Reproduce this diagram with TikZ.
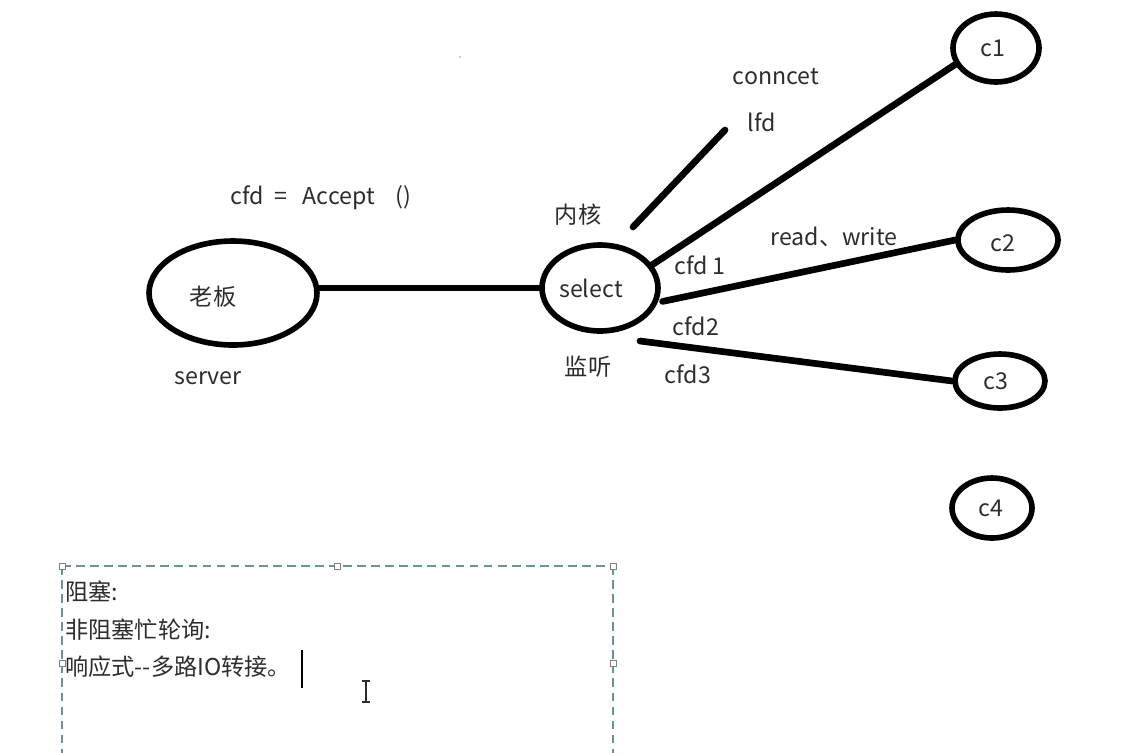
\documentclass[tikz,border=0pt]{standalone}
\usepackage{fontspec}
\setmainfont{Noto Sans CJK SC}
\usetikzlibrary{shapes.geometric}
\definecolor{txtgray}{RGB}{45,45,45}
\definecolor{boxteal}{RGB}{100,150,160}
\begin{document}
\begin{tikzpicture}[
  x=0.02cm, y=-0.02cm,
  bubble/.style={ellipse, draw=black, line width=3.2pt, inner sep=0pt, text=txtgray},
  wire/.style={line width=3.8pt, line cap=round},
  lbl/.style={font=\fontsize{13.2}{15}\selectfont, text=txtgray, inner sep=0pt},
  handle/.style={draw=gray, fill=white, line width=0.5pt, minimum size=0.12cm, inner sep=0pt, rectangle}
]
\useasboundingbox (0,0) rectangle (1140,752);
\fill[white] (0,0) rectangle (1140,752);

% ellipses
\node[bubble, minimum width=3.36cm, minimum height=2.08cm] (boss) at (233,293) {};
\node[bubble, minimum width=2.32cm, minimum height=1.72cm] (sel) at (600,288) {};
\node[bubble, minimum width=1.72cm, minimum height=1.36cm] (c1) at (996,48) {};
\node[bubble, minimum width=2.0cm, minimum height=1.2cm] (c2) at (1008,240) {};
\node[bubble, minimum width=1.8cm, minimum height=1.08cm] (c3) at (1000,381) {};
\node[bubble, minimum width=1.6cm, minimum height=1.2cm] (c4) at (992,508) {};

\node[lbl] (bosst) at (213,297) {老板};
\node[lbl] (selt) at (591,288) {select};
\node[lbl] (c1t) at (993,48) {c1};
\node[lbl] (c2t) at (1003,243) {c2};
\node[lbl] (c3t) at (996,381) {c3};
\node[lbl] (c4t) at (991,508) {c4};

% connectors
\coordinate (lfdlo) at (633,227);
\coordinate (lfdhi) at (725,130);
\draw[wire] (sel.west -| boss.east) -- (sel.west);
\draw[wire] (lfdlo) -- (lfdhi);
\draw[wire] (sel.24) -- (c1.202);
\draw[wire] ([shift={(4,1)}]sel.348) -- (c2.west);
\draw[wire] ([shift={(40,53)}]sel.center) -- (c3.west);

% labels
\node[lbl] (acc) at (321,198) {cfd\ \ =\ \ \ Accept\ \ \ \ ()};
\node[lbl] (srv) at (208,378) {server};
\node[lbl] (conn) at (776,77) {conncet};
\node[lbl] (lfd) at (762,122) {lfd};
\node[lbl] (kern) at (578,215) {内核};
\node[lbl] (rw) at (834,237) {read、write};
\node[lbl] (cfda) at (700,265) {cfd 1};
\node[lbl] (cfdb) at (696,326) {cfd2};
\node[lbl] (lsn) at (588,367) {监听};
\node[lbl] (cfdc) at (688,374) {cfd3};
\fill[txtgray] (460,57) circle (0.7);

% text box
\draw[boxteal, line width=0.7pt, dash pattern=on 5pt off 3pt] (62,566) -- (613,566) (62,566) -- (62,760) (613,566) -- (613,760);
\foreach \hx/\hy [count=\i] in {62/566, 337/566, 613/566, 62/663, 613/663}
  \node[handle] (h\i) at (\hx,\hy) {};
\node[lbl, anchor=west] (t1) at (65,592) {阻塞:};
\node[lbl, anchor=west] (t2) at (65,630) {非阻塞忙轮询:};
\node[lbl, anchor=west] (t3) at (65,667) {响应式-{}-多路IO转接。};
\draw[black, line width=1pt] (302,650) -- (302,688);
\draw[txtgray, line width=0.9pt] (366,681) -- (366,702) (362,681) -- (370,681) (362,702) -- (370,702);
\end{tikzpicture}
\end{document}
